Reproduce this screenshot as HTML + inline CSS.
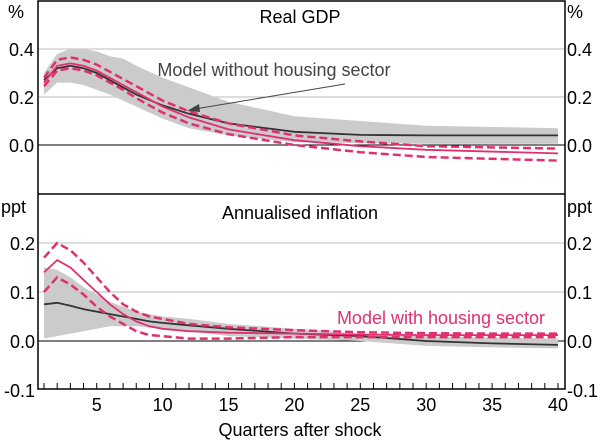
<!DOCTYPE html>
<html><head><meta charset="utf-8"><style>
body{margin:0;background:#fff}
svg text{font-family:"Liberation Sans",sans-serif}
</style></head><body>
<svg id="c" width="600" height="440" xmlns="http://www.w3.org/2000/svg"></svg>
<script>
const qTop=[1,2,3,4,5,6,7,8,10,12,15,20,25,30,40];
const gdpNoH=[0.27,0.32,0.33,0.32,0.30,0.27,0.24,0.21,0.165,0.13,0.09,0.055,0.042,0.04,0.04];
const gdpBandHi=[0.30,0.38,0.40,0.40,0.39,0.37,0.36,0.33,0.28,0.24,0.18,0.12,0.10,0.08,0.07];
const gdpBandLo=[0.21,0.26,0.26,0.25,0.23,0.21,0.185,0.16,0.11,0.07,0.04,0.012,0.008,0.005,0.005];
const gdpH=[0.26,0.33,0.34,0.33,0.31,0.28,0.25,0.22,0.16,0.115,0.065,0.02,-0.005,-0.02,-0.035];
const gdpHHi=[0.28,0.355,0.365,0.355,0.335,0.305,0.275,0.245,0.185,0.14,0.09,0.04,0.015,-0.005,-0.015];
const gdpHLo=[0.245,0.31,0.32,0.31,0.29,0.26,0.23,0.195,0.135,0.09,0.045,0.0,-0.03,-0.05,-0.065];
const qBot=[1,2,3,4,5,6,7,8,9,10,12,15,20,25,30,35,40];
const infNoH=[0.075,0.078,0.072,0.065,0.06,0.055,0.05,0.045,0.04,0.037,0.032,0.025,0.015,0.01,0.0,-0.005,-0.008];
const infBandHi=[0.15,0.145,0.13,0.11,0.095,0.08,0.07,0.06,0.055,0.05,0.045,0.035,0.025,0.015,0.01,0.007,0.005];
const infBandLo=[0.005,0.01,0.015,0.02,0.025,0.03,0.03,0.03,0.027,0.025,0.02,0.01,0.005,0.0,-0.01,-0.013,-0.015];
const infH=[0.14,0.165,0.15,0.125,0.1,0.075,0.055,0.04,0.03,0.025,0.02,0.017,0.015,0.013,0.012,0.012,0.012];
const infHHi=[0.17,0.2,0.185,0.16,0.13,0.1,0.075,0.06,0.05,0.045,0.035,0.028,0.022,0.018,0.016,0.015,0.015];
const infHLo=[0.1,0.13,0.115,0.095,0.07,0.05,0.035,0.02,0.012,0.01,0.005,0.005,0.008,0.008,0.008,0.008,0.008];
const topTicks=[0.4,0.2,0.0];
const topTickLabels=["0.4","0.2","0.0"];
const botTicks=[0.2,0.1,0.0,-0.1];
const botTickLabels=["0.2","0.1","0.0","-0.1"];
const xTicks=[5,10,15,20,25,30,35,40];

const NS="http://www.w3.org/2000/svg",svg=document.getElementById('c');
const L=38,R=565,PINK="#e0306f",FS=18;
const x=q=>44+(q-1)*(558-44)/39;
const yT=v=>145-v*240;
const yB=v=>341-v*490;
function el(t,a,txt){const e=document.createElementNS(NS,t);for(const k in a)e.setAttribute(k,a[k]);if(txt!==undefined)e.textContent=txt;svg.appendChild(e);return e;}
function pts(xs,ys,yf){return xs.map((q,i)=>x(q).toFixed(1)+','+yf(ys[i]).toFixed(1)).join(' ');}
topTicks.forEach((v,i)=>{
 const g=el('line',{x1:L,x2:R,y1:yT(v),y2:yT(v),stroke:v===0?'#000':'#bbb','stroke-width':1});
 
 
 const a=el('text',{x:L-4,y:yT(v)+7,'text-anchor':'end','font-size':FS},topTickLabels[i]);
 
 
 const b=el('text',{x:R+2,y:yT(v)+7,'font-size':FS},topTickLabels[i]);
 
 
});
botTicks.forEach((v,i)=>{
 if(v>-0.1){const g=el('line',{x1:L,x2:R,y1:yB(v),y2:yB(v),stroke:v===0?'#000':'#bbb','stroke-width':1});
 
 }
 const a=el('text',{x:L-3,y:yB(v)+7,'text-anchor':'end','font-size':FS},botTickLabels[i]);
 
 
 const b=el('text',{x:R+2,y:yB(v)+7,'font-size':FS},botTickLabels[i]);
 
 
});
function series(xs,hi,lo,mid,phi,plo,pmid,yf,nm){
 const band=el('polygon',{points:pts(xs,hi,yf)+' '+pts(xs.slice().reverse(),lo.slice().reverse(),yf),fill:'#cbcbcb'});
 
 
 const m=el('polyline',{points:pts(xs,mid,yf),fill:'none',stroke:'#333','stroke-width':1.8});
 
 
 [[phi,'upper'],[plo,'lower']].forEach(([d,n])=>{
  const p=el('polyline',{points:pts(xs,d,yf),fill:'none',stroke:PINK,'stroke-width':2.5,'stroke-dasharray':'8,4'});
  
  
 });
 const c=el('polyline',{points:pts(xs,pmid,yf),fill:'none',stroke:PINK,'stroke-width':1.8});
 
 
}
series(qTop,gdpBandHi,gdpBandLo,gdpNoH,gdpHHi,gdpHLo,gdpH,yT,'gdp');
series(qBot,infBandHi,infBandLo,infNoH,infHHi,infHLo,infH,yB,'inflation');
const f=el('rect',{x:L,y:1,width:R-L,height:388,fill:'none',stroke:'#000','stroke-width':1.5});


const d=el('line',{x1:L,x2:R,y1:194,y2:194,stroke:'#000','stroke-width':1.5});


for(let q=1;q<=40;q++){const t=el('line',{x1:x(q),x2:x(q),y1:389,y2:383,stroke:'#000','stroke-width':1});
 
 }
xTicks.forEach(q=>{const t=el('text',{x:x(q),y:411,'text-anchor':'middle','font-size':FS},String(q));
 
 });
[['%',8,18,'top-unit'],['ppt',1,213,'bottom-unit']].forEach(([s,xx,yy,n])=>{
 const a=el('text',{x:xx,y:yy,'font-size':FS},s);
 const b=el('text',{x:R+2,y:yy,'font-size':FS},s);
});
const t1=el('text',{x:300,y:23,'text-anchor':'middle','font-size':FS},'Real GDP');

const t2=el('text',{x:300,y:219,'text-anchor':'middle','font-size':FS},'Annualised inflation');

const xt=el('text',{x:300,y:436,'text-anchor':'middle','font-size':FS},'Quarters after shock');

const a1=el('text',{x:274,y:76,'text-anchor':'middle','font-size':FS,fill:'#444'},'Model without housing sector');

const ar=el('line',{x1:345,y1:84,x2:195,y2:109,stroke:'#444','stroke-width':1});

const ah=el('polygon',{points:'187,111 199,104 200,112',fill:'#444'});

const a2=el('text',{x:441,y:324,'text-anchor':'middle','font-size':FS,fill:PINK},'Model with housing sector');

</script>
</body></html>
